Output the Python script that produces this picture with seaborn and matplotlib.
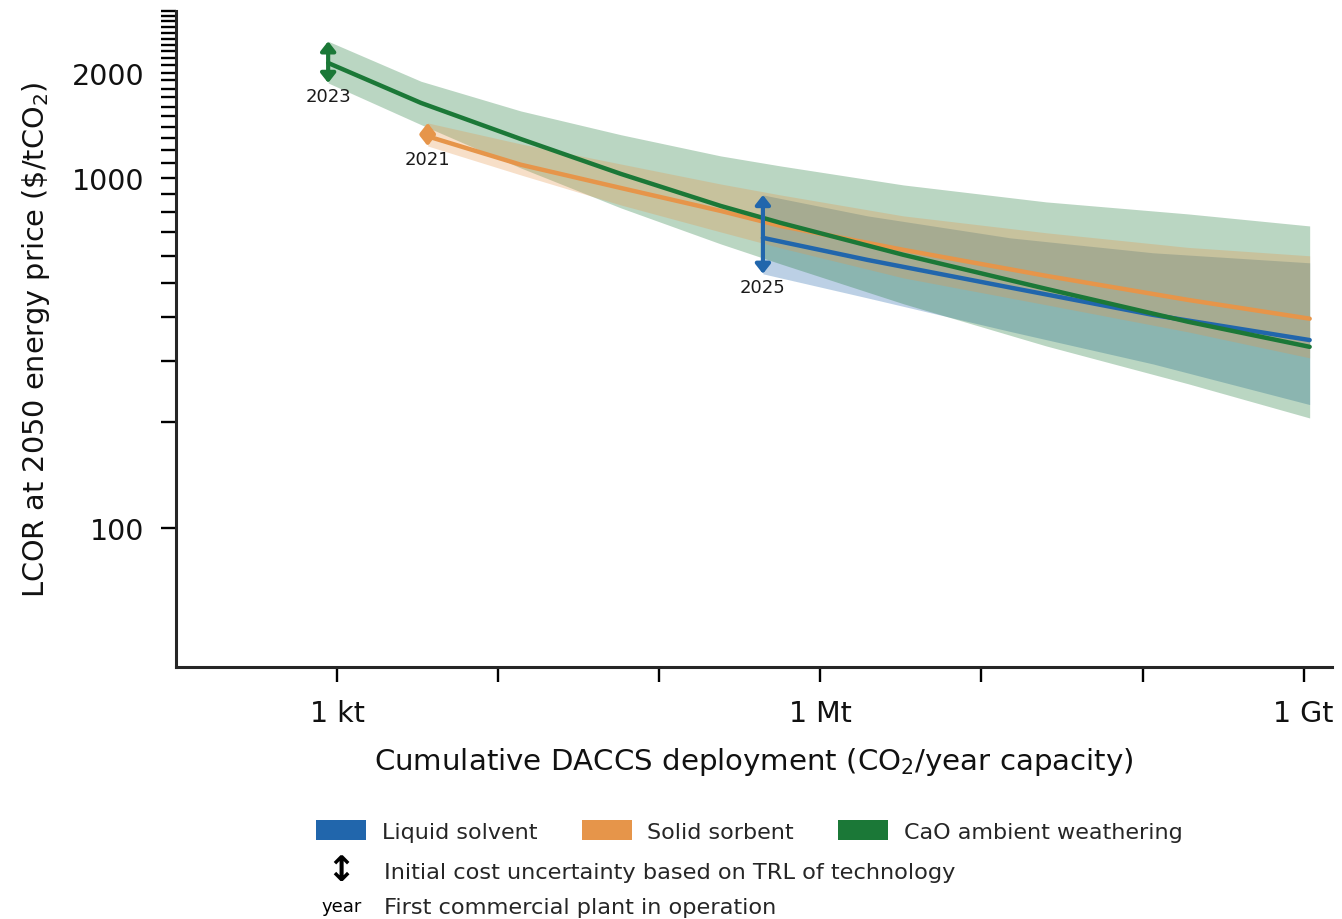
import numpy as np
import pandas as pd
import matplotlib
matplotlib.use("Agg")
import matplotlib.pyplot as plt
import seaborn as sns
from matplotlib.patches import Patch
from matplotlib.lines import Line2D
from matplotlib.legend_handler import HandlerBase
from matplotlib.text import Text
from matplotlib.ticker import NullFormatter, NullLocator

# --- data -----------------------------------------------------------------
technologies = ["Liquid solvent", "Solid sorbent", "CaO ambient weathering"]
colors = ["#2166ac", "#e6954a", "#1b7837"]
first_plant_year = ["2025", "2021", "2023"]

# cumulative capacity (tCO2/yr) and levelised cost of removal ($/tCO2)
liquid_capacity = [4.4e5, 1.96e6, 1.51e7, 1.16e8, 1.09e9]
liquid_cost = [674, 583, 486, 406, 344]
liquid_low = [532, 454, 364, 294, 225]
liquid_high = [894, 779, 674, 611, 572]

solid_capacity = [3650, 13800, 57700, 2.4e5, 5.66e5, 3.27e6, 2.52e7, 1.92e8, 1.09e9]
solid_cost = [1315, 1091, 936, 805, 729, 623, 525, 448, 396]
solid_low = [1234, 1020, 837, 701, 631, 518, 434, 363, 306]
solid_high = [1436, 1251, 1096, 961, 894, 779, 697, 633, 599]

cao_capacity = [880, 3320, 13800, 57700, 2.4e5, 5.66e5, 3.27e6, 2.52e7, 1.92e8, 1.09e9]
cao_cost = [2131, 1638, 1292, 1027, 832, 744, 603, 482, 388, 329]
cao_low = [1868, 1420, 1068, 821, 648, 568, 437, 331, 258, 206]
cao_high = [2458, 1889, 1554, 1329, 1156, 1082, 955, 854, 789, 729]

x_ticks = [1e3, 1e4, 1e5, 1e6, 1e7, 1e8, 1e9]
x_tick_labels = ["1 kt", "", "", "1 Mt", "", "", "1 Gt"]
y_ticks = [100, 1000, 2000]
y_tick_labels = ["100", "1000", "2000"]
y_minor_ticks = [v for v in range(200, 3100, 100) if v not in (1000, 2000)]

series = {
    "Liquid solvent": (liquid_capacity, liquid_cost, liquid_low, liquid_high),
    "Solid sorbent": (solid_capacity, solid_cost, solid_low, solid_high),
    "CaO ambient weathering": (cao_capacity, cao_cost, cao_low, cao_high),
}

df = pd.concat(
    [pd.DataFrame({"capacity": v[0], "cost": v[1], "technology": k}) for k, v in series.items()],
    ignore_index=True,
)

# --- style ----------------------------------------------------------------
sns.set_theme(style="ticks")
plt.rcParams["font.family"] = ["DejaVu Sans"]
plt.rcParams["axes.linewidth"] = 2.2
plt.rcParams["mathtext.default"] = "regular"

fig = plt.figure(figsize=(13.42, 9.2), dpi=100)
ax = fig.add_axes([176 / 1342, 1 - 668 / 920, (1332 - 176) / 1342, (668 - 12) / 920])
ax.set_xscale("log")
ax.set_yscale("log")

palette = dict(zip(technologies, colors))

# uncertainty bands
for tech in ["Liquid solvent", "CaO ambient weathering", "Solid sorbent"]:
    cap, cost, low, high = series[tech]
    ax.fill_between(cap, low, high, color=palette[tech], alpha=0.3, linewidth=0, zorder=1)

# central learning curves
sns.lineplot(data=df, x="capacity", y="cost", hue="technology", palette=palette,
             hue_order=technologies, estimator=None, sort=True, linewidth=3.2,
             legend=False, ax=ax, zorder=3)

# initial cost uncertainty arrows and first-plant year
for tech, year in zip(technologies, first_plant_year):
    cap, cost, low, high = series[tech]
    ax.annotate("", xy=(cap[0], high[0]), xytext=(cap[0], low[0]),
                arrowprops=dict(arrowstyle="<|-|>,head_length=0.28,head_width=0.22",
                                color=palette[tech], lw=3, shrinkA=0, shrinkB=0,
                                mutation_scale=20), zorder=4)
    ax.annotate(year, xy=(cap[0], low[0]), xytext=(0, -3), textcoords="offset points",
                ha="center", va="top", fontsize=13, color="#1a1a1a")

ax.set_xlim(100, 1.5e9)
ax.set_ylim(40, 3000)

ax.set_xticks(x_ticks, labels=x_tick_labels)
ax.xaxis.set_minor_locator(NullLocator())
ax.set_yticks(y_ticks, labels=y_tick_labels)
ax.set_yticks(y_minor_ticks, minor=True)
ax.yaxis.set_minor_formatter(NullFormatter())
ax.tick_params(axis="both", which="both", length=10.8, width=1.7, labelsize=20.5,
               pad=12, color="black", labelcolor="#111111")

ax.set_xlabel("Cumulative DACCS deployment (CO$_2$/year capacity)", fontsize=21.1,
              labelpad=13, color="#111111")
ax.set_ylabel(r"LCOR at 2050 energy price (\$/tCO$_2$)", fontsize=20.7,
              labelpad=14, color="#111111")
sns.despine(ax=ax)
ax.grid(False)


# --- legends ----------------------------------------------------------------
class SymbolHandler(HandlerBase):
    def __init__(self, symbol, size, weight="normal"):
        super().__init__()
        self.symbol = symbol
        self.size = size
        self.weight = weight

    def create_artists(self, legend, orig_handle, xdescent, ydescent, width, height,
                       fontsize, trans):
        t = Text(-xdescent + width / 2, -ydescent + height / 2, self.symbol,
                 ha="center", va="center", fontsize=self.size, fontweight=self.weight,
                 color="black", transform=trans)
        return [t]


tech_handles = [Patch(facecolor=c, edgecolor="none") for c in colors]
fig.legend(tech_handles, technologies, loc="upper left",
           bbox_to_anchor=(316 / 1342, 1 - 821 / 920), ncol=3, frameon=False,
           fontsize=16, handlelength=2.25, handleheight=1.0, handletextpad=0.7,
           columnspacing=2.0, borderpad=0, borderaxespad=0)

arrow_key = Line2D([], [])
year_key = Line2D([], [])
fig.legend([arrow_key, year_key],
           ["Initial cost uncertainty based on TRL of technology",
            "First commercial plant in operation"],
           handler_map={arrow_key: SymbolHandler("\u2195", 25, "bold"),
                        year_key: SymbolHandler("year", 13)},
           loc="upper left", bbox_to_anchor=(316 / 1342, 1 - 861 / 920), frameon=False,
           fontsize=16.2, handlelength=2.25, handleheight=1.0, handletextpad=0.75,
           labelspacing=0.62, borderpad=0, borderaxespad=0)

fig.savefig("out.png", dpi=100)
